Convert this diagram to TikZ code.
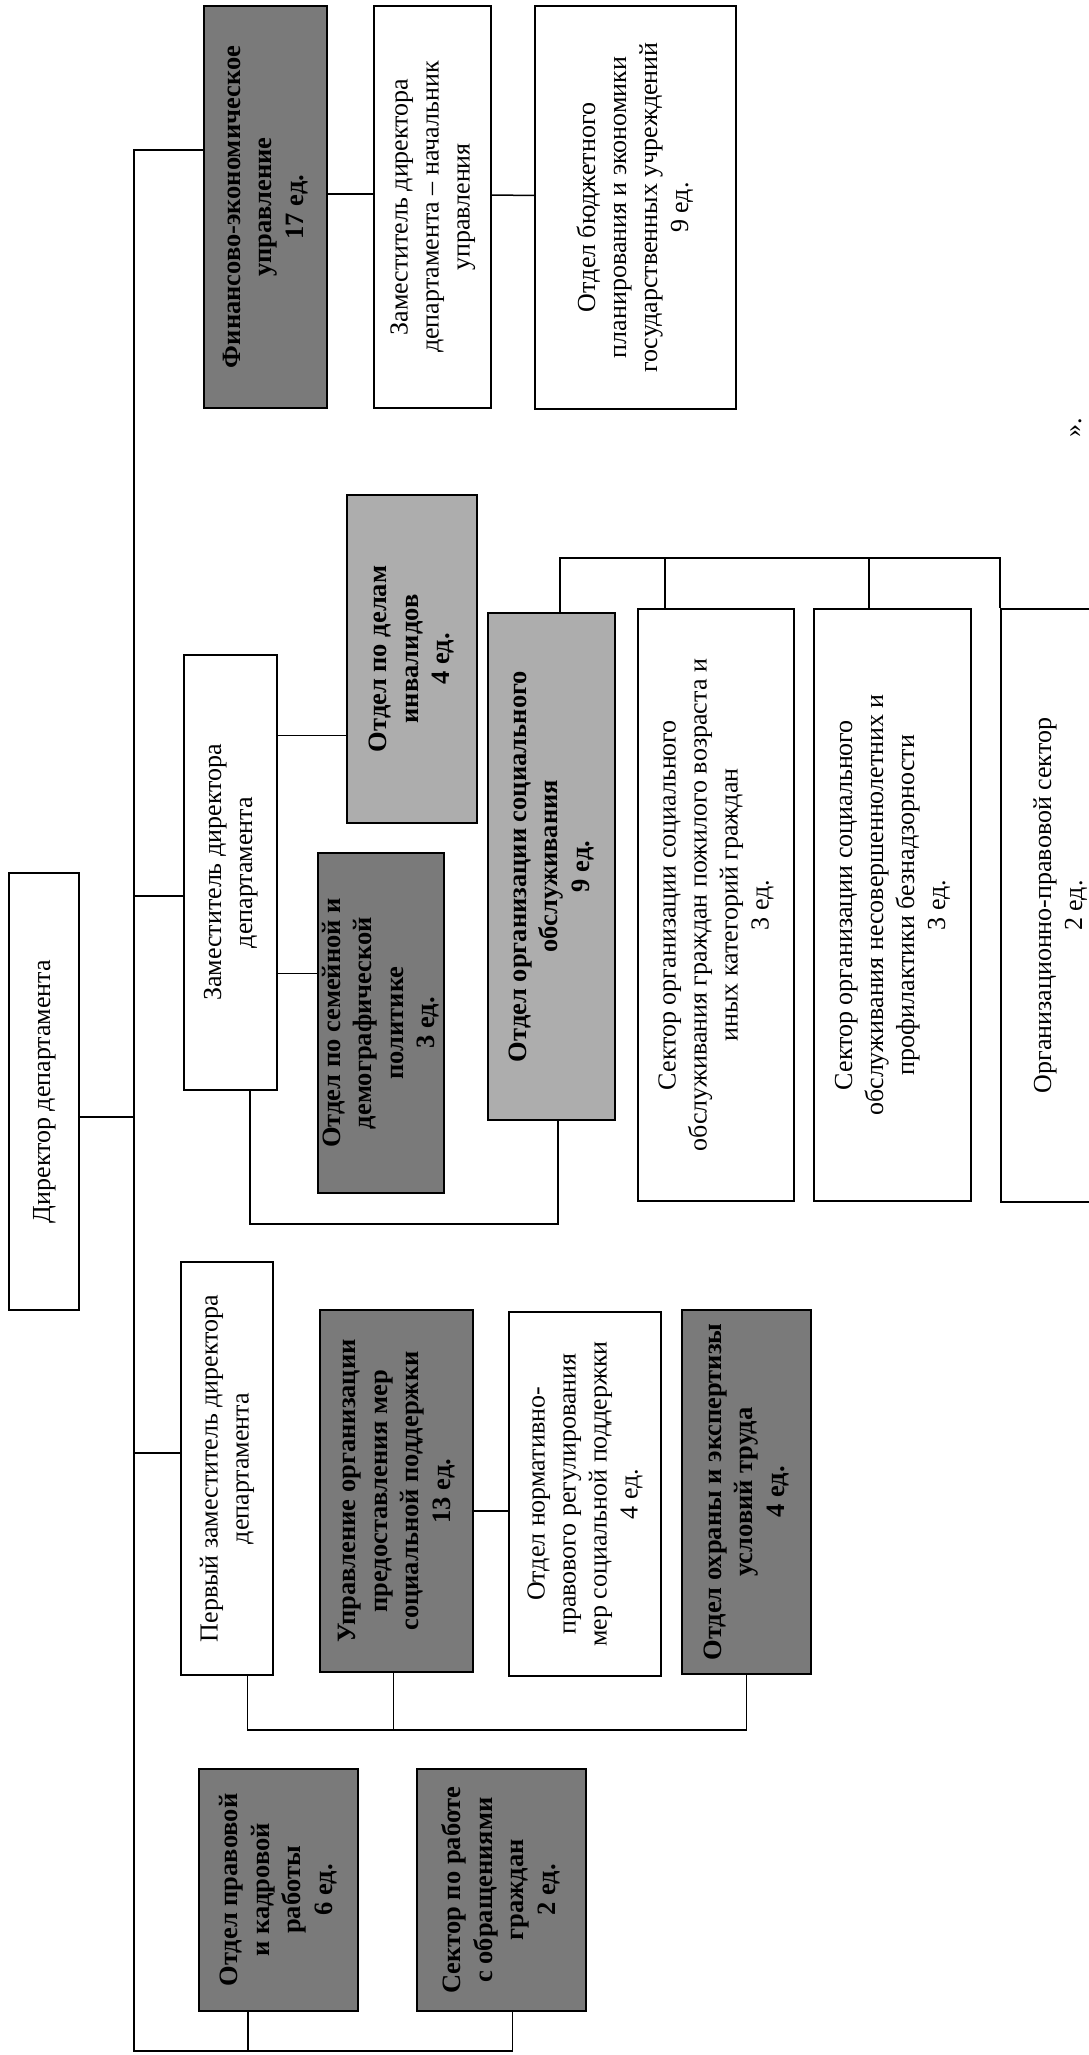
\documentclass[tikz,border=0pt]{standalone}
\usepackage{fontspec}
\setmainfont{Liberation Serif}
\usepackage{graphicx}

% text of a box, set upright and turned to read upwards
\newcommand{\vlines}[1]{\rotatebox{90}{\begin{tabular}{@{}c@{}}#1\end{tabular}}}

\tikzset{
  unitbox/.style={draw, line width=1.8pt, fill=white, inner sep=0pt,
    font=\fontsize{26}{31}\selectfont},
  darkunit/.style={unitbox, fill=black!52, font=\fontsize{26.5}{31.5}\selectfont\bfseries},
  lightunit/.style={darkunit, fill=black!32},
  link/.style={line width=1.5pt},
}

\begin{document}
\begin{tikzpicture}[x=1pt,y=-1pt]
\useasboundingbox (0,0) rectangle (1089,2055);
\clip (0,0) rectangle (1089,2055);

% director
\node[unitbox, minimum width=70pt, minimum height=437pt] (dir) at (44,1091.5) {\vlines{Директор департамента}};

% finance branch
\node[darkunit, minimum width=123pt, minimum height=402pt] (fin) at (265.5,207) {\vlines{Финансово-экономическое\\ управление\\ 17 ед.}};
\node[unitbox, minimum width=117pt, minimum height=402pt] (zamnach) at (432.5,207) {\vlines{Заместитель директора\\ департамента -- начальник\\ управления}};
\node[unitbox, minimum width=201pt, minimum height=403pt] (budget) at (635.5,207.5) {\vlines{Отдел бюджетного\\ планирования и экономики\\ государственных учреждений\\ 9 ед.}};

% deputy director branch
\node[unitbox, minimum width=93pt, minimum height=435pt] (zamdir) at (230.5,872.5) {\vlines{Заместитель директора\\ департамента}};
\node[lightunit, minimum width=130pt, minimum height=328pt] (invalid) at (412,659) {\vlines{Отдел по делам\\ инвалидов\\ 4 ед.}};
\node[darkunit, minimum width=124pt, minimum height=340pt] (family) at (381,1023) {\vlines{Отдел по семейной и\\ демографической\\ политике\\ 3 ед.}};
\node[lightunit, minimum width=127pt, minimum height=507pt] (socorg) at (551.5,866.5) {\vlines{Отдел организации социального\\ обслуживания\\ 9 ед.}};
\node[unitbox, minimum width=156pt, minimum height=592pt] (sectold) at (716,905) {\vlines{Сектор организации социального\\ обслуживания граждан пожилого возраста и\\ иных категорий граждан\\ 3 ед.}};
\node[unitbox, minimum width=157pt, minimum height=592pt] (sectyoung) at (892.5,905) {\vlines{Сектор организации социального\\ обслуживания несовершеннолетних и\\ профилактики безнадзорности\\ 3 ед.}};
\node[unitbox, minimum width=119pt, minimum height=593pt] (orgprav) at (1060.5,905.5) {\vlines{Организационно-правовой сектор\\ 2 ед.}\hspace{37pt}};

% first deputy branch
\node[unitbox, minimum width=92pt, minimum height=413pt] (firstdep) at (227,1468.5) {\vlines{Первый заместитель директора\\ департамента}};
\node[darkunit, minimum width=153pt, minimum height=362pt] (uprav) at (396.5,1491) {\vlines{Управление организации\\ предоставления мер\\ социальной поддержки\\ 13 ед.}};
\node[unitbox, minimum width=152pt, minimum height=364pt] (norm) at (585,1494) {\vlines{Отдел нормативно-\\ правового регулирования\\ мер социальной поддержки\\ 4 ед.}};
\node[darkunit, minimum width=129pt, minimum height=364pt] (okhrana) at (746.5,1492) {\vlines{Отдел охраны и экспертизы\\ условий труда\\ 4 ед.}};

% units under the director
\node[darkunit, minimum width=159pt, minimum height=242pt] (pravovoy) at (278.5,1890) {\vlines{Отдел правовой\\ и кадровой\\ работы\\ 6 ед.}};
\node[darkunit, minimum width=169pt, minimum height=242pt] (obrasch) at (501.5,1890) {\vlines{Сектор по работе\\ с обращениями\\ граждан\\ 2 ед.}};

\node[font=\fontsize{26}{31}\selectfont] (endmark) at (1076,428) {\rotatebox{90}{».}};

% spine
\coordinate (mtop) at (134,150);
\coordinate (mbot) at (134,2051);
\coordinate (jzam) at (134,896);
\coordinate (jdir) at (134,1117);
\coordinate (jfirst) at (134,1453);
\draw[link] (fin.west |- mtop) -- (mtop) -- (mbot) -| ([xshift=11pt]obrasch.south);
\draw[link] ([xshift=-30.5pt]pravovoy.south) -- ([xshift=-30.5pt]pravovoy.south |- mbot);
\draw[link] (dir.east |- jdir) -- (jdir);
\draw[link] (jzam) -- (zamdir.west |- jzam);
\draw[link] (jfirst) -- (firstdep.west |- jfirst);

% finance chain
\draw[link] ([yshift=13pt]fin.east) -- ([yshift=13pt]zamnach.west);
\draw[link] ([yshift=12pt]zamnach.east) -- ([yshift=12pt]budget.west);

% deputy director links
\coordinate (jinv) at (300,735.5);
\coordinate (jfam) at (300,973.5);
\coordinate (jsoc) at (300,1224);
\coordinate (jsect) at (600,558);
\draw[link] (zamdir.east |- jinv) -- (invalid.west |- jinv);
\draw[link] (zamdir.east |- jfam) -- (family.west |- jfam);
\draw[link] ([xshift=19.5pt]zamdir.south) |- ([xshift=6.5pt]socorg.south |- jsoc) -- ([xshift=6.5pt]socorg.south);
\draw[link] ([xshift=8.5pt]socorg.north) |- (orgprav.north west |- jsect) -- (orgprav.north west);
\draw[link] ([xshift=-51pt]sectold.north) -- ([xshift=-51pt]sectold.north |- jsect);
\draw[link] ([xshift=-23.5pt]sectyoung.north) -- ([xshift=-23.5pt]sectyoung.north |- jsect);

% first deputy links
\coordinate (jdep) at (400,1730);
\draw[link] ([yshift=-20pt]uprav.east) -- ([yshift=-20pt]uprav.east -| norm.west);
\draw[link] ([xshift=20.5pt]firstdep.south) |- (okhrana.south |- jdep) -- (okhrana.south);
\draw[link] ([xshift=-3pt]uprav.south) -- ([xshift=-3pt]uprav.south |- jdep);
\end{tikzpicture}
\end{document}
